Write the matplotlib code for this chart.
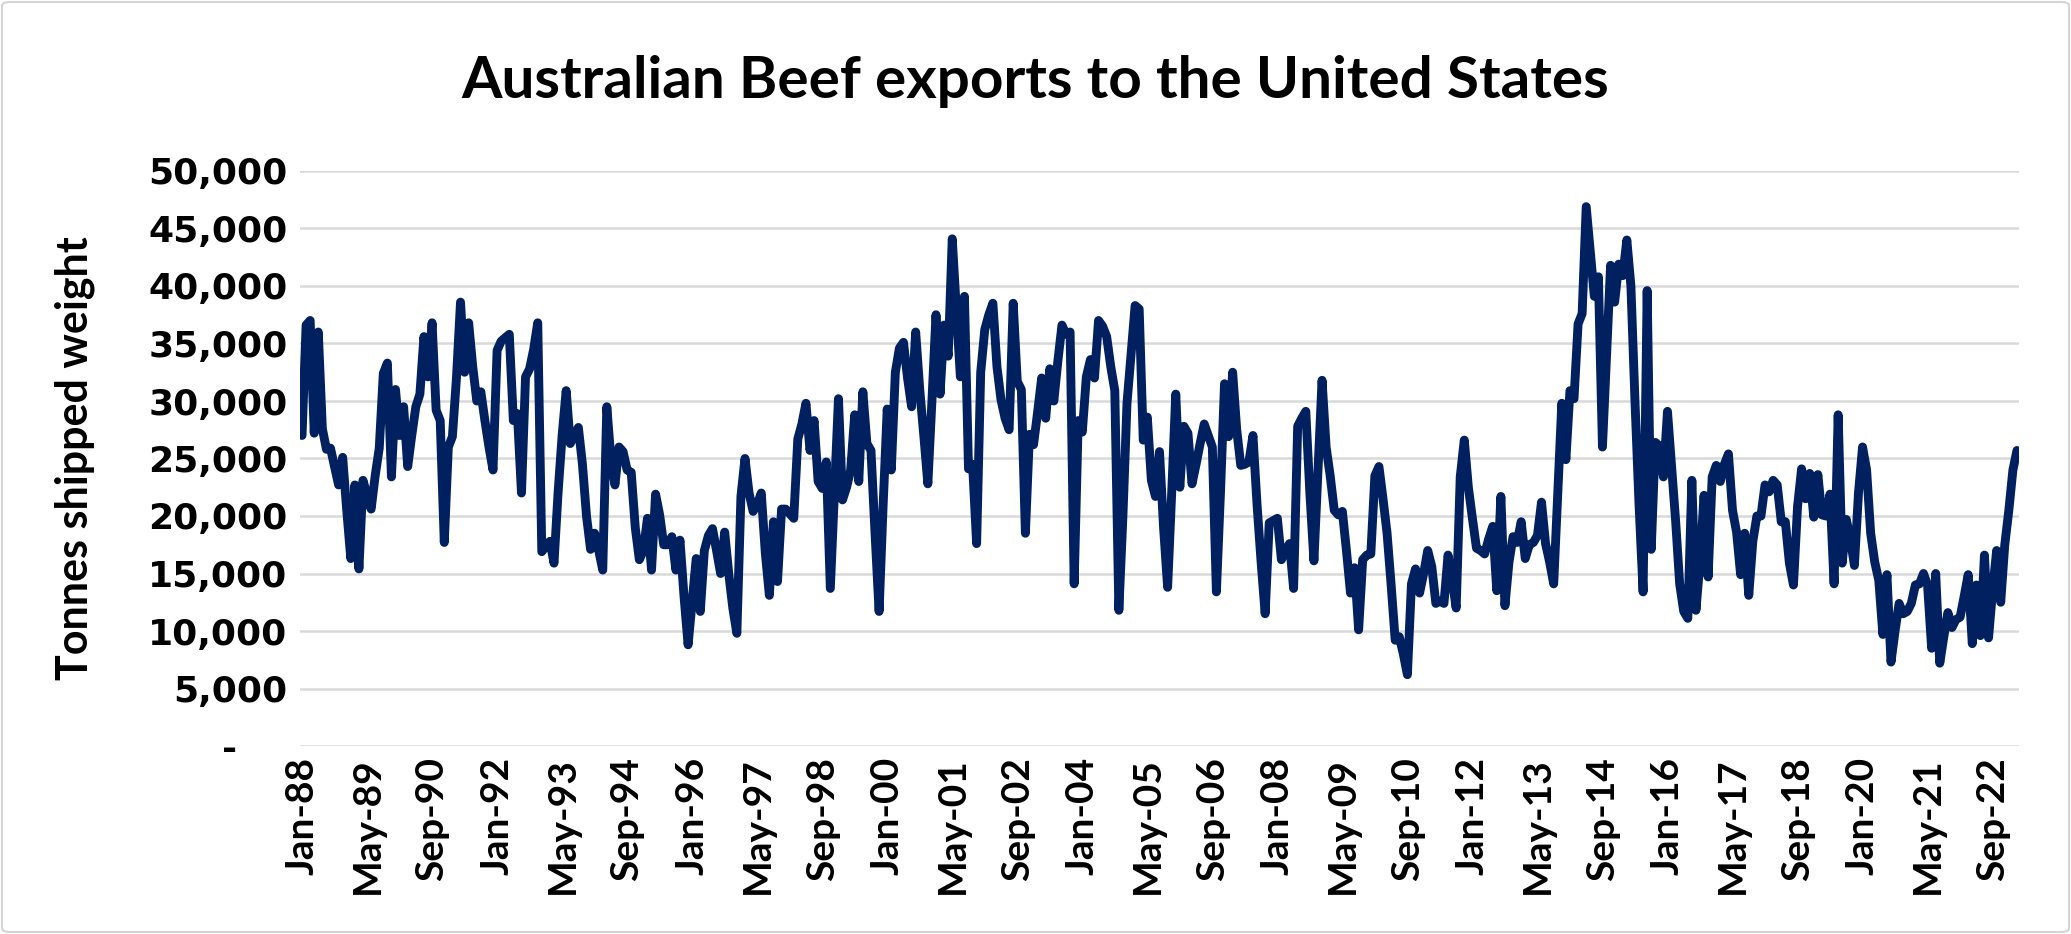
import matplotlib
matplotlib.use("Agg")
import matplotlib.pyplot as plt
import numpy as np
import pandas as pd
from matplotlib.patches import FancyBboxPatch

# ---------------- data (tonnes shipped weight, monthly from Jan-1988) ----------------
start_month = "1988-01-01"
tonnes = [
    27000, 36600, 37000, 27200, 36000, 27600, 25800, 25900, 24300, 22700,
    25100, 20500, 16300, 22700, 15400, 23100, 21800, 20600, 23500, 25900,
    32400, 33300, 23400, 31000, 27000, 29500, 24300, 27000, 29500, 30600,
    35600, 32100, 36800, 29200, 28300, 17700, 26000, 26900, 32000, 38600,
    32500, 36800, 33000, 30000, 30800, 28300, 26000, 24000, 34400, 35200,
    35500, 35800, 28300, 28900, 22000, 32100, 32800, 34500, 36800, 16900,
    17400, 17800, 15900, 22000, 27000, 30900, 26300, 27000, 27700, 24500,
    20000, 17100, 18500, 17000, 15300, 29500, 25000, 22700, 26000, 25600,
    24000, 23800, 19000, 16200, 17000, 19800, 15300, 21900, 20100, 17500,
    17500, 18200, 15300, 17900, 13000, 8800, 12500, 16300, 11700, 17000,
    18300, 18900, 17000, 15000, 18600, 15000, 12000, 9800, 21700, 25000,
    22000, 20400, 21000, 22000, 16800, 13100, 19500, 14300, 20600, 20600,
    20200, 19800, 26700, 28000, 29800, 25700, 28300, 23000, 22400, 24700,
    13700, 22000, 30200, 21400, 22500, 24000, 28800, 23000, 30800, 26300,
    25700, 18500, 11700, 21000, 29300, 24000, 32500, 34600, 35100, 32000,
    29500, 36000, 31000, 27000, 22800, 30000, 37500, 30600, 36600, 33900,
    44100, 38000, 32100, 39100, 24100, 24500, 17600, 32500, 36200, 37500,
    38500, 33000, 30100, 28500, 27500, 38500, 31700, 31000, 18500, 27100,
    26200, 29000, 32000, 28500, 32800, 30000, 33500, 36600, 35800, 36000,
    14100, 28300, 27300, 32100, 33600, 32000, 37000, 36500, 35600, 33000,
    30900, 11800, 20000, 29800, 34000, 38300, 38000, 26600, 28600, 23100,
    21700, 25600, 19000, 13800, 22000, 30600, 22500, 27800, 27200, 22800,
    24500, 26300, 28000, 27000, 26000, 13400, 22000, 31500, 26900, 32500,
    27500, 24400, 24500, 24700, 27000, 21000, 16000, 11500, 19400, 19600,
    19800, 16200, 17000, 17600, 13700, 27800, 28500, 29100, 22000, 16100,
    24000, 31800, 26000, 23500, 20500, 20100, 20400, 17000, 13300, 15500,
    10100, 16200, 16600, 16700, 23500, 24300, 21500, 18500, 14000, 9200,
    9500, 8000, 6200, 14100, 15400, 13300, 15000, 17000, 15600, 12400,
    12600, 12400, 16600, 14500, 12000, 23400, 26600, 22500, 19800, 17200,
    17000, 16700, 18000, 19100, 13500, 21700, 12200, 16000, 18200, 17700,
    19500, 16300, 17500, 17700, 18300, 21200, 17600, 16000, 14100, 22000,
    29800, 24900, 30900, 30200, 36700, 37600, 46900, 43000, 39100, 40800,
    26000, 34000, 41800, 38600, 41900, 40900, 44000, 40000, 30000, 21000,
    13400, 39600, 17100, 26400, 26100, 23400, 29100, 24300, 19600, 14100,
    11700, 11100, 23100, 11800, 16000, 21800, 14700, 23400, 24400, 23000,
    24500, 25400, 20500, 18600, 14900, 18500, 13100, 17800, 20000, 20000,
    22700, 22100, 23100, 22700, 19500, 19500, 15900, 14000, 20800, 24100,
    21500, 23700, 19900, 23600, 20100, 20000, 21900, 14100, 28800, 15900,
    19700, 18000, 15700, 22000, 26000, 24000, 18500, 16000, 14400, 9700,
    14900, 7300, 10000, 12400, 11500, 11700, 12400, 14000, 14100, 15000,
    14000, 8500, 15000, 7200, 9500, 11600, 10300, 11000, 11200, 13000,
    14900, 8900, 14000, 9600, 16600, 9400, 13500, 17000, 12500, 17500,
    20500, 24000, 25700,
]
tick_step_months = 16
y_ticks = [0, 5000, 10000, 15000, 20000, 25000, 30000, 35000, 40000, 45000, 50000]

title_text = "Australian Beef exports to the United States"
y_label_text = "Tonnes shipped weight"

# ---------------- derived ----------------
dates = pd.date_range(start_month, periods=len(tonnes), freq="MS")
x = np.arange(len(tonnes))
tick_pos = list(range(0, len(tonnes), tick_step_months))
tick_lab = [dates[i].strftime("%b-%y") for i in tick_pos]
y_lab = ["-    " if v == 0 else f"{v:,}" for v in y_ticks]

W, H = 2071, 934
fig = plt.figure(figsize=(W / 100, H / 100), dpi=100)
fig.patch.set_facecolor("white")

# chart border
border = FancyBboxPatch((2 / W, 2 / H), 1 - 4 / W, 1 - 4 / H,
                        boxstyle="round,pad=0,rounding_size=0.004",
                        transform=fig.transFigure, facecolor="none",
                        edgecolor="#d4d4d4", linewidth=1.5)
fig.patches.append(border)

ax_w = 2019 - 300
ax = fig.add_axes([300 / W, 1 - 746 / H, ax_w / W, (746 - 171) / H])
ax.plot(x, tonnes, color="#012060", linewidth=6.4,
        solid_joinstyle="round", solid_capstyle="round", zorder=3)

ax.set_ylim(0, 50000)
ax.set_xlim(-0.5, len(tonnes) - 0.5)
ax.set_yticks(y_ticks)
ax.set_yticklabels(y_lab, fontfamily="DejaVu Sans", fontweight="bold", fontsize=26)
ax.set_xticks(tick_pos)
ax.set_xticklabels(tick_lab, rotation=90, fontfamily="Lato", fontweight="bold",
                   fontsize=28)
ax.tick_params(axis="both", length=0)
ax.tick_params(axis="y", pad=9)
ax.tick_params(axis="x", pad=8)

ax.grid(axis="y", color="#d9d9d9", linewidth=1.8, zorder=0)
ax.grid(axis="x", visible=False)
for s in ax.spines.values():
    s.set_visible(False)

ax.set_ylabel(y_label_text, fontfamily="Lato", fontweight="bold", fontsize=31)
ax.yaxis.set_label_coords(-(300 - 95) / ax_w, 0.5)

fig.text(0.5, 1 - 82 / H, title_text, ha="center", va="center",
         fontfamily="Lato", fontweight="bold", fontsize=42)

fig.savefig("out.png", dpi=100, facecolor="white")
